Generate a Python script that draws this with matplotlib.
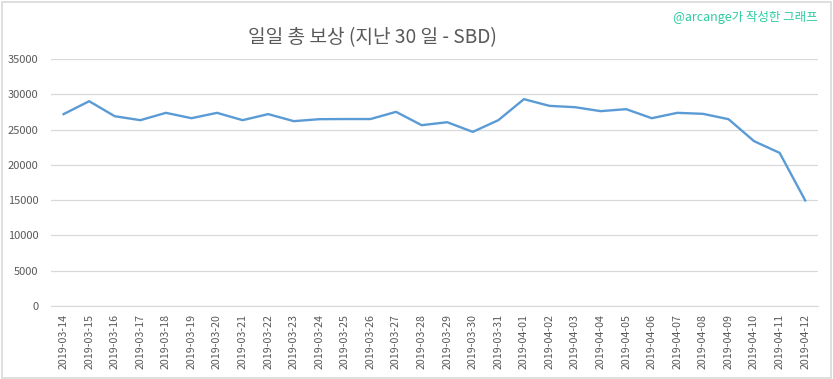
import matplotlib.pyplot as plt
from matplotlib.patches import Rectangle

plt.rcParams['font.family'] = ['Noto Sans CJK KR', 'DejaVu Sans']

# 날짜 (2019-03-14 ~ 2019-04-12)
dates = ['2019-03-14', '2019-03-15', '2019-03-16', '2019-03-17', '2019-03-18',
         '2019-03-19', '2019-03-20', '2019-03-21', '2019-03-22', '2019-03-23',
         '2019-03-24', '2019-03-25', '2019-03-26', '2019-03-27', '2019-03-28',
         '2019-03-29', '2019-03-30', '2019-03-31', '2019-04-01', '2019-04-02',
         '2019-04-03', '2019-04-04', '2019-04-05', '2019-04-06', '2019-04-07',
         '2019-04-08', '2019-04-09', '2019-04-10', '2019-04-11', '2019-04-12']

# 일일 총 보상 (SBD)
rewards = [27200, 29030, 26900, 26340, 27380, 26620, 27380, 26340, 27200, 26200,
           26480, 26500, 26500, 27520, 25630, 26050, 24680, 26340, 29320, 28370,
           28180, 27620, 27900, 26620, 27380, 27240, 26480, 23360, 21700, 14950]

yticks = [0, 5000, 10000, 15000, 20000, 25000, 30000, 35000]

fig = plt.figure(figsize=(8.33, 3.79), dpi=100)

# 바깥 테두리
fig.patches.append(Rectangle((0.002, 0.003), 0.995, 0.993, transform=fig.transFigure,
                             fill=False, edgecolor='#D9D9D9', linewidth=1.2))

ax = fig.add_axes([0.061, 0.193, 0.921, 0.651])
x = list(range(len(dates)))
ax.plot(x, rewards, color='#5B9BD5', linewidth=1.7)

ax.set_xlim(-0.5, len(dates) - 0.5)
ax.set_ylim(0, 35000)
ax.set_yticks(yticks)
ax.set_yticklabels([str(v) for v in yticks], fontsize=8, color='#595959')
ax.set_xticks(x)
ax.set_xticklabels(dates, rotation=90, fontsize=7.7, color='#595959')
ax.tick_params(length=0, pad=6)
ax.tick_params(axis='y', pad=9)
ax.grid(axis='y', color='#D9D9D9', linewidth=0.9)
ax.set_axisbelow(True)
for s in ['top', 'right', 'left']:
    ax.spines[s].set_visible(False)
ax.spines['bottom'].set_color('#D9D9D9')

fig.text(0.447, 0.90, '일일 총 보상 (지난 30 일 - SBD)', ha='center', va='center',
         fontsize=13.8, color='#595959')
fig.text(0.982, 0.955, '@arcange가 작성한 그래프', ha='right', va='center',
         fontsize=9, color='#2ECCA0')

fig.savefig('out.png', dpi=100)
